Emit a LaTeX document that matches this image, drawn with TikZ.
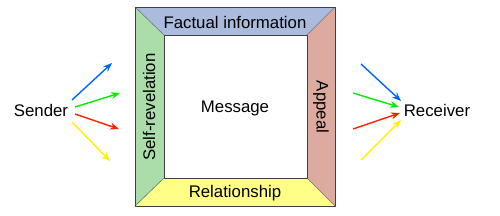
\documentclass[tikz,border=0pt]{standalone}
\usepackage{fontspec}
\setmainfont{Liberation Sans}
\usetikzlibrary{arrows.meta}
\definecolor{cblue}{RGB}{0,102,255}
\definecolor{cgreen}{RGB}{0,240,0}
\definecolor{cred}{RGB}{255,32,0}
\definecolor{cyellow}{RGB}{255,240,0}
\definecolor{ftop}{RGB}{170,187,221}
\definecolor{fleft}{RGB}{170,221,170}
\definecolor{fright}{RGB}{221,170,160}
\definecolor{fbot}{RGB}{255,255,136}
\tikzset{
  lbl/.style={font=\fontsize{16.8}{20}\selectfont, inner sep=0pt},
  arr/.style={line width=1.4pt, -{Stealth[length=9pt,width=7pt]}},
  panel/.style={draw=black!75, line width=0.7pt, line join=round}
}
\begin{document}
\begin{tikzpicture}[x=1pt,y=-1pt]
\useasboundingbox (0,0) rectangle (500,215);
% outer and inner corners
\coordinate (o1) at (135,7);
\coordinate (o2) at (335,7);
\coordinate (o3) at (335,206);
\coordinate (o4) at (135,206);
\coordinate (i1) at (164,35);
\coordinate (i2) at (307,35);
\coordinate (i3) at (307,178);
\coordinate (i4) at (164,178);
\fill[ftop] (o1) -- (o2) -- (i2) -- (i1) -- cycle;
\fill[fright] (o2) -- (o3) -- (i3) -- (i2) -- cycle;
\fill[fbot] (o3) -- (o4) -- (i4) -- (i3) -- cycle;
\fill[fleft] (o4) -- (o1) -- (i1) -- (i4) -- cycle;
\draw[black!55, line width=0.6pt] (o1) -- (i1) (o2) -- (i2) (o3) -- (i3) (o4) -- (i4);
\draw[panel] (o1) rectangle (o3);
\draw[panel] (i1) rectangle (i3);
% texts
\node[lbl] (fact) at (235,22) {Factual information};
\node[lbl] (rel) at (235,193) {Relationship};
\node[lbl, rotate=90] (self) at (149,107) {Self-revelation};
\node[lbl, rotate=-90] (app) at (321,107) {Appeal};
\node[lbl] (msg) at (235,108) {Message};
\node[lbl] (snd) at (41,110) {Sender};
\node[lbl] (rcv) at (437,110) {Receiver};
% sender arrows
\coordinate (sb0) at (72,100); \coordinate (sb1) at (112,63);
\coordinate (sg0) at (75,107); \coordinate (sg1) at (120,93);
\coordinate (sr0) at (75,114); \coordinate (sr1) at (119,129);
\coordinate (sy0) at (72,122); \coordinate (sy1) at (110,161);
\draw[arr, cblue] (sb0) -- (sb1);
\draw[arr, cgreen] (sg0) -- (sg1);
\draw[arr, cred] (sr0) -- (sr1);
\draw[arr, cyellow] (sy0) -- (sy1);
% receiver arrows
\coordinate (rb0) at (361,64); \coordinate (rb1) at (401,101);
\coordinate (rg0) at (353,93); \coordinate (rg1) at (399,107);
\coordinate (rr0) at (353,129); \coordinate (rr1) at (400,113);
\coordinate (ry0) at (361,160); \coordinate (ry1) at (401,120);
\draw[arr, cblue] (rb0) -- (rb1);
\draw[arr, cgreen] (rg0) -- (rg1);
\draw[arr, cred] (rr0) -- (rr1);
\draw[arr, cyellow] (ry0) -- (ry1);
\end{tikzpicture}
\end{document}
